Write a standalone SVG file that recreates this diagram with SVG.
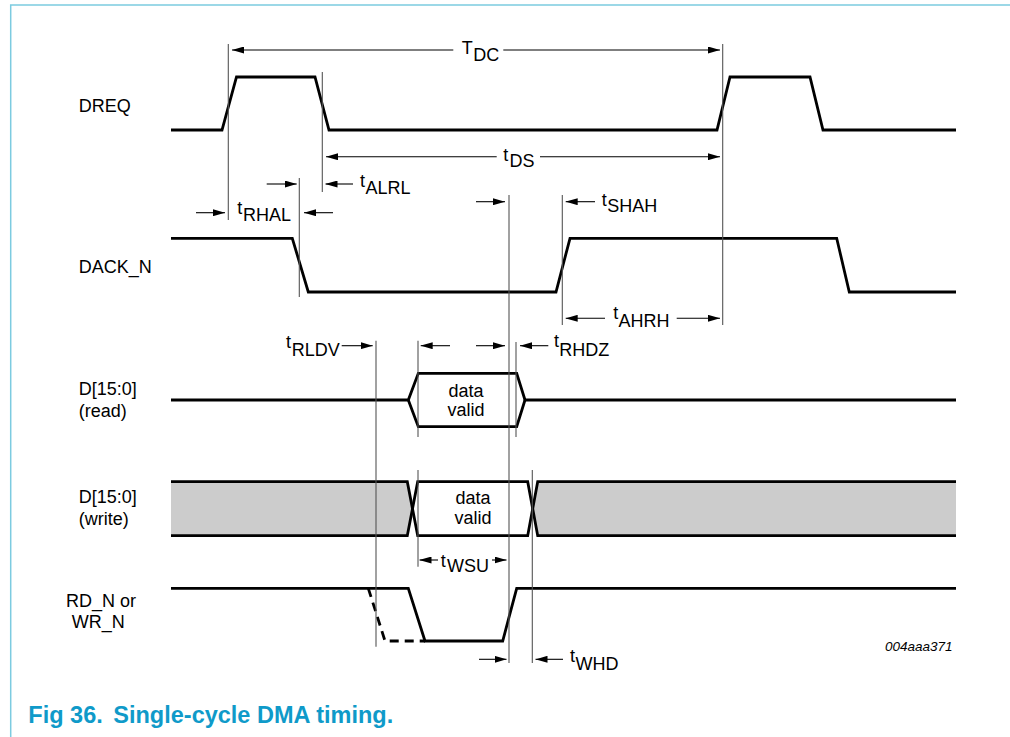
<svg xmlns="http://www.w3.org/2000/svg" width="1010" height="737" viewBox="0 0 1010 737">
<defs>
<marker id="ah" viewBox="0 0 12 7" refX="12" refY="3.5" markerWidth="12" markerHeight="7" markerUnits="userSpaceOnUse" orient="auto">
<path d="M0,0 L12,3.5 L0,7 z" fill="#000"/>
</marker>
<style>
.sig{fill:none;stroke:#000;stroke-width:2.8;stroke-linejoin:miter}
.dash{fill:none;stroke:#000;stroke-width:2.8;stroke-dasharray:9,6}
.gray{fill:#cccccc;stroke:none}
.guide{fill:none;stroke:#555;stroke-width:1.1}
.arr{fill:none;stroke:#000;stroke-width:1.1;marker-end:url(#ah)}
.ln{fill:none;stroke:#000;stroke-width:1.1}
.lbl{font-family:"Liberation Sans",Arial,sans-serif;font-size:18px;fill:#000}
.id{font-family:"Liberation Sans",Arial,sans-serif;font-size:13.5px;font-style:italic;fill:#000}
.title{font-family:"Liberation Sans",Arial,sans-serif;font-size:23.5px;font-weight:bold;fill:#0f9ac9}
</style>
</defs>
<rect width="1010" height="737" fill="#fff"/>
<path d="M10.7,737 L10.7,5 L1010,5" fill="none" stroke="#7ccbe0" stroke-width="1.5"/>

<g id="labels">
<text class="lbl" x="78.7" y="111.7">DREQ</text>
<text class="lbl" x="78.7" y="272.7">DACK_N</text>
<text class="lbl" x="78.7" y="395">D[15:0]</text>
<text class="lbl" x="78.7" y="417.3">(read)</text>
<text class="lbl" x="78.7" y="503.3">D[15:0]</text>
<text class="lbl" x="78.7" y="525">(write)</text>
<text class="lbl" x="66" y="606.7">RD_N or</text>
<text class="lbl" x="71.7" y="628.3">WR_N</text>
</g>

<g id="sig-dreq">
<path class="sig" d="M171,130 L222,130 L236.5,77 L315,77 L329,130 L717,130 L730,77 L810,77 L823,130 L956,130"/>
</g>
<g id="sig-dack">
<path class="sig" d="M171,238.3 L292.3,238.3 L308.3,292 L556,292 L570,238.3 L836.7,238.3 L849.3,292 L956,292"/>
</g>
<g id="sig-dread">
<path class="sig" d="M171,400 L408.3,400 L418.3,373.3 L516.7,373.3 L525,400 L956,400"/>
<path class="sig" d="M408.3,400 L418.3,426.7 L516.7,426.7 L525,400"/>
<text class="lbl" x="466" y="396.7" text-anchor="middle">data</text>
<text class="lbl" x="466" y="416" text-anchor="middle">valid</text>
</g>
<g id="sig-dwrite">
<path class="gray" d="M171,481.7 L407.3,481.7 L412.5,508.7 L407.3,535.7 L171,535.7 z"/>
<path class="gray" d="M532.7,508.7 L537.7,481.7 L956,481.7 L956,535.7 L537.7,535.7 z"/>
<path class="sig" d="M171,481.7 L407.3,481.7 L417.7,535.7 L527.7,535.7 L537.7,481.7 L956,481.7"/>
<path class="sig" d="M171,535.7 L407.3,535.7 L417.7,481.7 L527.7,481.7 L537.7,535.7 L956,535.7"/>
<text class="lbl" x="473" y="504.3" text-anchor="middle">data</text>
<text class="lbl" x="473" y="524" text-anchor="middle">valid</text>
</g>
<g id="sig-rdwr">
<path class="sig" d="M171,588.3 L408.3,588.3 L425,641 L502.7,641 L516.7,588.3 L956,588.3"/>
<path class="dash" d="M368.3,588.3 L385,641 L425,641"/>
</g>

<g id="connectors">
<path class="guide" d="M228.3,44 V220 M322.3,72 V192 M722.7,44 V325 M299.3,178 V297 M509,195 V663 M562.3,195 V325 M376,340.7 V646.7 M418,340.7 V437 M418,470 V566.7 M516,342 V437 M532.3,470 V663"/>
<!-- T_DC -->
<line class="arr" x1="453.3" y1="50" x2="232" y2="50"/>
<line class="arr" x1="503.3" y1="50" x2="720" y2="50"/>
<!-- t_DS -->
<line class="arr" x1="496.7" y1="156.7" x2="326" y2="156.7"/>
<line class="arr" x1="540" y1="156.7" x2="720" y2="156.7"/>
<!-- t_ALRL -->
<line class="arr" x1="353" y1="184" x2="325.5" y2="184"/>
<!-- t_RHAL -->
<line class="arr" x1="266.7" y1="184" x2="296.7" y2="184"/>
<line class="arr" x1="196" y1="212.7" x2="225" y2="212.7"/>
<line class="arr" x1="333" y1="212.7" x2="304" y2="212.7"/>
<!-- t_SHAH -->
<line class="arr" x1="595" y1="201.7" x2="565.7" y2="201.7"/>
<line class="arr" x1="476" y1="201.7" x2="505" y2="201.7"/>
<!-- t_AHRH -->
<line class="arr" x1="605" y1="318.3" x2="565.7" y2="318.3"/>
<line class="arr" x1="676.7" y1="318.3" x2="720" y2="318.3"/>
<!-- t_RLDV -->
<line class="arr" x1="341.7" y1="345.7" x2="372.7" y2="345.7"/>
<line class="arr" x1="450" y1="345.7" x2="420.7" y2="345.7"/>
<line class="arr" x1="476" y1="345.7" x2="505" y2="345.7"/>
<!-- t_RHDZ -->
<line class="arr" x1="548.3" y1="345.7" x2="520" y2="345.7"/>
<!-- t_WSU -->
<line class="arr" x1="438" y1="560" x2="419.5" y2="560"/>
<line class="arr" x1="492" y1="560" x2="506.5" y2="560"/>
<!-- t_WHD -->
<line class="arr" x1="479" y1="659.3" x2="506.5" y2="659.3"/>
<line class="arr" x1="563" y1="659.3" x2="535.5" y2="659.3"/>
</g>

<g id="timing-labels">
<text class="lbl" x="461.7" y="54">T</text><text class="lbl" x="473.3" y="61">DC</text>
<text class="lbl" x="503.3" y="160.7">t</text><text class="lbl" x="509.5" y="166.7">DS</text>
<text class="lbl" x="360" y="187.3">t</text><text class="lbl" x="365.5" y="194">ALRL</text>
<text class="lbl" x="237.3" y="214">t</text><text class="lbl" x="243" y="220.5">RHAL</text>
<text class="lbl" x="601.7" y="206">t</text><text class="lbl" x="607.3" y="212.3">SHAH</text>
<text class="lbl" x="613.3" y="319.3">t</text><text class="lbl" x="618.5" y="327">AHRH</text>
<text class="lbl" x="286" y="348.3">t</text><text class="lbl" x="291.7" y="355.7">RLDV</text>
<text class="lbl" x="554" y="347.3">t</text><text class="lbl" x="559.3" y="355.5">RHDZ</text>
<text class="lbl" x="440.7" y="567">t</text><text class="lbl" x="447" y="572">WSU</text>
<text class="lbl" x="570" y="662">t</text><text class="lbl" x="575.5" y="670">WHD</text>
</g>

<text class="id" x="952.5" y="650.7" text-anchor="end">004aaa371</text>
<text class="title" x="28.3" y="723">Fig 36.</text>
<text class="title" x="113.3" y="723">Single-cycle DMA timing.</text>
</svg>
